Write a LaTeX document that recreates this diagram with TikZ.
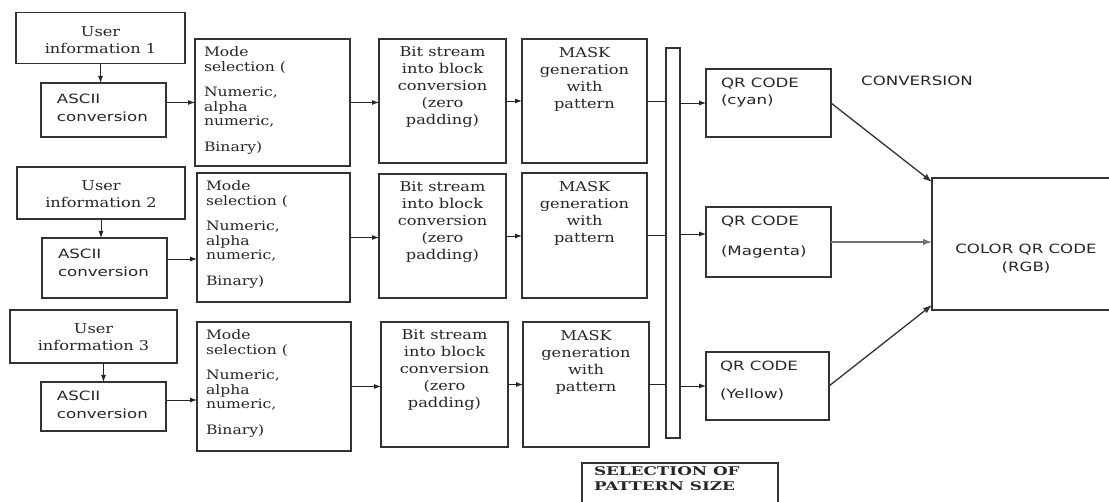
\documentclass[tikz,border=0pt]{standalone}
\usepackage{fontspec}
\setmainfont{DejaVu Serif}[FakeStretch=1.2]
\newfontfamily\sansf{DejaVu Sans}[FakeStretch=1.3]
\newfontfamily\selfont{DejaVu Serif}[FakeStretch=1.4]
\usetikzlibrary{arrows.meta,calc}
\newcommand\bxt[4]{\parbox[c][#2pt][t]{#1pt}{\vspace*{#3pt}#4}}
\newcommand\serifA{\fontsize{13.5}{17}\selectfont}
\newcommand\serifM{\fontsize{13}{14.5}\selectfont}
\newcommand\sansA{\sansf\fontsize{12.8}{18}\selectfont}
\begin{document}
\begin{tikzpicture}[x=1pt,y=-1pt,
  blk/.style={draw=black!80, line width=1.5pt, inner sep=0pt, outer sep=0pt, text=black!85},
  edge/.style={draw=black!80, line width=1.5pt},
  arr/.style={draw=black!85, line width=0.9pt, -{Latex[length=7pt,width=5pt]}},
  darr/.style={draw=black!80, line width=1.3pt, -{Latex[length=9pt,width=6.5pt]}},
  ln/.style={draw=black!85, line width=0.9pt}]
\useasboundingbox (0,0) rectangle (1109,502);

% ---------- row 1 ----------
\node[blk] (u1) at (100.5,38) {\bxt{169}{51}{14}{\serifA\centering User\\information 1\par}};
\node[blk] (a1) at (103.5,110) {\bxt{125}{54}{11}{\sansA\raggedright\leftskip=16pt ASCII\\conversion\par}};
\node[blk] (m1) at (272.5,102.5) {\bxt{155}{127}{8}{\serifM\raggedright\leftskip=9pt Mode\\selection (\\[11pt]Numeric,\\alpha\\numeric,\\[11pt]Binary)\par}};
\node[blk] (b1) at (442.5,101) {\bxt{127}{124}{8}{\serifA\centering Bit stream\\into block\\conversion\\(zero\\padding)\par}};
\node[blk] (k1) at (584.5,101) {\bxt{125}{124}{8}{\serifA\centering MASK\\generation\\with\\pattern\par}};
\node[blk] (q1) at (768.5,103) {\bxt{125}{68}{9.5}{\sansA\raggedright\leftskip=15pt QR CODE\\[-1pt](cyan)\par}};

% ---------- row 2 ----------
\node[blk] (u2) at (101,193) {\bxt{168}{52}{14}{\serifA\centering User\\information 2\par}};
\node[blk] (a2) at (104.5,268) {\bxt{125}{60}{11}{\sansA\raggedright\leftskip=16pt ASCII\\conversion\par}};
\node[blk] (m2) at (273.5,237.5) {\bxt{153}{129}{8}{\serifM\raggedright\leftskip=9pt Mode\\selection (\\[11pt]Numeric,\\alpha\\numeric,\\[11pt]Binary)\par}};
\node[blk] (b2) at (442.5,236) {\bxt{127}{124}{8}{\serifA\centering Bit stream\\into block\\conversion\\(zero\\padding)\par}};
\node[blk] (k2) at (584.5,235.5) {\bxt{125}{125}{8}{\serifA\centering MASK\\generation\\with\\pattern\par}};
\node[blk] (q2) at (768.5,242) {\bxt{125}{70}{9.5}{\sansA\raggedright\leftskip=15pt QR CODE\\[12pt](Magenta)\par}};

% ---------- row 3 ----------
\node[blk] (u3) at (93.5,336.5) {\bxt{167}{53}{14}{\serifA\centering User\\information 3\par}};
\node[blk] (a3) at (103.5,406.5) {\bxt{125}{49}{9}{\sansA\raggedright\leftskip=16pt ASCII\\conversion\par}};
\node[blk] (m3) at (274,386.5) {\bxt{154}{129}{8}{\serifM\raggedright\leftskip=9pt Mode\\selection (\\[11pt]Numeric,\\alpha\\numeric,\\[11pt]Binary)\par}};
\node[blk] (b3) at (444.5,384.5) {\bxt{127}{125}{8}{\serifA\centering Bit stream\\into block\\conversion\\(zero\\padding)\par}};
\node[blk] (k3) at (586,384.5) {\bxt{126}{125}{8}{\serifA\centering MASK\\generation\\with\\pattern\par}};
\node[blk] (q3) at (767.5,386) {\bxt{123}{68}{9.5}{\sansA\raggedright\leftskip=14pt QR CODE\\[10pt](Yellow)\par}};

% ---------- shared ----------
\node[blk, minimum width=14pt, minimum height=390pt] (bar) at (673,243) {};
\node[inner sep=0pt, outer sep=0pt, text=black!85] (c) at (1026,244) {\bxt{188}{132}{66}{\sansA\centering COLOR QR CODE\\(RGB)\par}};
\coordinate (rightedge) at (1109,0);
\draw[edge] (c.north west -| rightedge) -- (c.north west) -- (c.south west) -- (c.south west -| rightedge);
\node[text=black!85, font=\sansA] (conv) at (917,81) {CONVERSION};
% selection box: open at the bottom (runs off the picture)
\node[inner sep=0pt, outer sep=0pt, anchor=north west, text=black!85] (sel) at (582,463)
  {\bxt{196}{36}{4}{\selfont\bfseries\fontsize{12}{15}\selectfont\raggedright\leftskip=12pt SELECTION OF\\PATTERN SIZE\par}};
\coordinate (selbot) at (0,502);
\draw[edge] (sel.north west |- selbot) -- (sel.north west) -- (sel.north east) -- (sel.north east |- selbot);

% ---------- connectors row 1 ----------
\draw[arr] (u1.south) -- (u1.south |- a1.north);
\draw[arr] (a1.east |- m1.west) -- (m1.west);
\draw[arr] (m1.east) -- (m1.east -| b1.west);
\draw[arr] (b1.east) -- (b1.east -| k1.west);
\draw[ln] (k1.east) -- (k1.east -| bar.west);
\draw[arr] (bar.east |- q1.west) -- (q1.west);
\draw[darr] (q1.east) -- ([yshift=-4pt]c.north west);

% ---------- connectors row 2 ----------
\draw[arr] (u2.south) -- (u2.south |- a2.north);
\coordinate (a2o) at ([yshift=9pt]a2.east);
\draw[arr] (a2o) -- (a2o -| m2.west);
\draw[arr] (m2.east) -- (m2.east -| b2.west);
\draw[arr] (b2.east) -- (b2.east -| k2.west);
\draw[ln] (k2.east) -- (k2.east -| bar.west);
\coordinate (q2in) at ([yshift=8pt]q2.west);
\draw[arr] (bar.east |- q2in) -- (q2in);
\draw[darr, draw=black!55] (q2.east) -- (q2.east -| c.west);

% ---------- connectors row 3 ----------
\draw[arr] (a3.north |- u3.south) -- (a3.north);
\coordinate (a3o) at ([yshift=6.5pt]a3.east);
\draw[arr] (a3o) -- (a3o -| m3.west);
\draw[arr] (m3.east) -- (m3.east -| b3.west);
\draw[arr] (b3.east) -- (b3.east -| k3.west);
\draw[ln] (k3.east) -- (k3.east -| bar.west);
\draw[arr] (bar.east |- q3.west) -- (q3.west);
\draw[darr] (q3.east) -- ([yshift=5pt]c.south west);
\end{tikzpicture}
\end{document}
